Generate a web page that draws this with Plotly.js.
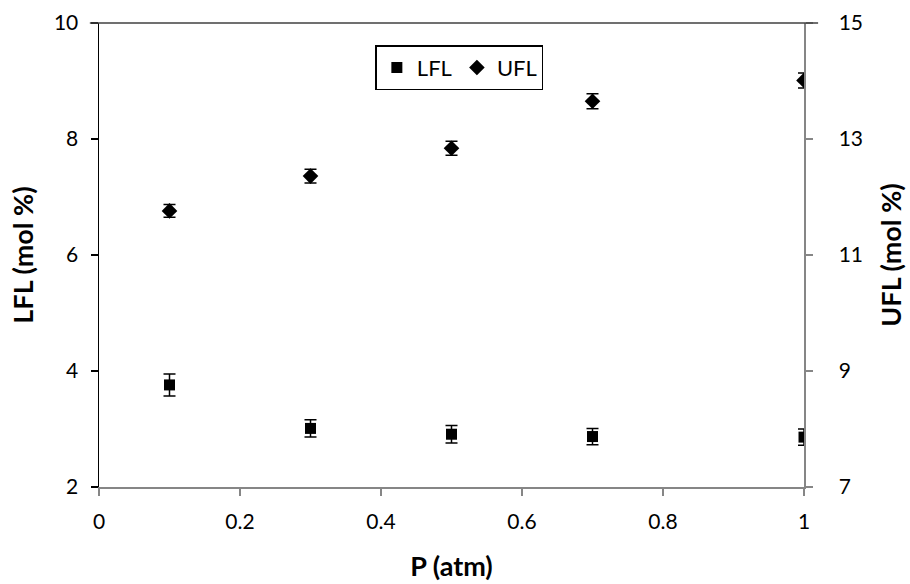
<!DOCTYPE html>
<html>
<head>
<meta charset="utf-8">
<script src="https://cdn.plot.ly/plotly-3.0.1.min.js"></script>
<style>html,body{margin:0;padding:0;background:#fff;}#chart{width:910px;height:584px;}</style>
</head>
<body>
<div id="chart"></div>
<script>
const pressure = [0.1, 0.3, 0.5, 0.7, 1.0];
const lfl = [3.76, 3.01, 2.91, 2.87, 2.86];
const lflErr = [0.19, 0.15, 0.15, 0.14, 0.14];
const ufl = [11.76, 12.36, 12.84, 13.65, 14.01];
const uflErr = [0.11, 0.12, 0.12, 0.13, 0.13];

const fontFam = "Lato, 'Open Sans', sans-serif";

const traces = [
  {
    x: pressure, y: lfl, name: 'LFL', type: 'scatter', mode: 'markers',
    marker: {symbol: 'square', size: 11, color: '#000'},
    error_y: {type: 'data', array: lflErr, visible: true, color: '#000', thickness: 1.5, width: 6},
    xaxis: 'x', yaxis: 'y'
  },
  {
    x: pressure, y: ufl, name: 'UFL', type: 'scatter', mode: 'markers',
    marker: {symbol: 'diamond', size: 12, color: '#000'},
    error_y: {type: 'data', array: uflErr, visible: true, color: '#000', thickness: 1.5, width: 6},
    xaxis: 'x', yaxis: 'y2'
  }
];

const layout = {
  width: 910, height: 584,
  margin: {l: 99, r: 106, t: 23, b: 97},
  paper_bgcolor: '#fff', plot_bgcolor: '#fff',
  font: {family: fontFam, size: 21, color: '#000'},
  showlegend: true,
  legend: {
    orientation: 'h', x: 0.392, y: 0.952, xanchor: 'left', yanchor: 'top',
    bordercolor: '#000', borderwidth: 1.5, bgcolor: '#fff',
    font: {family: fontFam, size: 22, color: '#000'},
    itemwidth: 30, tracegroupgap: 0
  },
  xaxis: {
    range: [0, 1], tickvals: [0, 0.2, 0.4, 0.6, 0.8, 1], ticktext: ['0', '0.2', '0.4', '0.6', '0.8', '1'],
    showgrid: false, zeroline: false, showline: true, linecolor: '#868686', linewidth: 1.5,
    ticks: 'outside', ticklen: 7, tickcolor: '#868686', tickwidth: 1.5, ticklabelstandoff: 8,
    tickfont: {family: fontFam, size: 21, color: '#000'},
    title: {text: '<b>P (atm)</b>', font: {family: fontFam, size: 27, color: '#000'}, standoff: 25}
  },
  yaxis: {
    range: [2, 10], dtick: 2, tick0: 2,
    showgrid: false, zeroline: false, showline: true, linecolor: '#000', linewidth: 1.5,
    ticks: 'outside', ticklen: 7, tickcolor: '#000', tickwidth: 1.5, ticklabelstandoff: 8,
    tickfont: {family: fontFam, size: 21, color: '#000'},
    title: {text: '<b>LFL (mol %)</b>', font: {family: fontFam, size: 27, color: '#000'}, standoff: 12}
  },
  yaxis2: {
    range: [7, 15], dtick: 2, tick0: 7, overlaying: 'y', side: 'right',
    showgrid: false, zeroline: false, showline: true, linecolor: '#868686', linewidth: 1.5,
    ticks: 'outside', ticklen: 7, tickcolor: '#868686', tickwidth: 1.5, ticklabelstandoff: 22,
    tickfont: {family: fontFam, size: 21, color: '#000'},
    title: {text: '<b>UFL (mol %)</b>', font: {family: fontFam, size: 27, color: '#000'}, standoff: 20}
  },
  shapes: [
    {type: 'line', xref: 'paper', yref: 'paper', x0: -0.013, x1: 1.02, y0: 1, y1: 1,
     line: {color: '#404040', width: 1.5}}
  ]
};

Plotly.newPlot('chart', traces, layout, {displayModeBar: false, staticPlot: true});
</script>
</body>
</html>
